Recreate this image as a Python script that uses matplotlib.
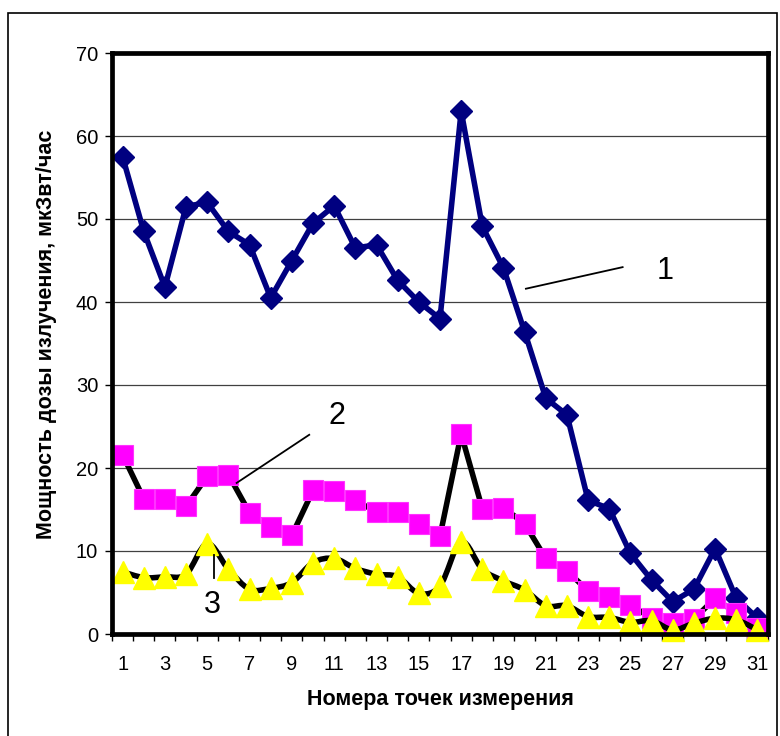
import matplotlib
matplotlib.use("Agg")
import matplotlib.pyplot as plt
from matplotlib.path import Path
from matplotlib.patches import PathPatch, Rectangle
import numpy as np

plt.rcParams['font.family'] = ['Liberation Sans', 'DejaVu Sans']

points = list(range(1, 32))
series1 = [57.5, 48.5, 41.8, 51.5, 52.0, 48.5, 46.9, 40.5, 45.0, 49.5,
           51.6, 46.5, 46.9, 42.6, 40.0, 38.0, 63.0, 49.1, 44.1, 36.4,
           28.4, 26.4, 16.1, 15.1, 9.7, 6.5, 3.9, 5.4, 10.3, 4.3, 1.9]
series2 = [21.6, 16.3, 16.3, 15.4, 19.0, 19.2, 14.6, 12.9, 11.9, 17.3,
           17.2, 16.1, 14.7, 14.7, 13.2, 11.8, 24.1, 15.1, 15.2, 13.3,
           9.1, 7.6, 5.2, 4.5, 3.5, 1.9, 1.3, 1.8, 4.3, 2.5, 0.7]
series3 = [7.5, 6.8, 6.9, 7.2, 10.9, 7.8, 5.4, 5.5, 6.2, 8.6,
           9.1, 7.9, 7.2, 6.9, 4.9, 5.8, 11.1, 7.8, 6.4, 5.3,
           3.4, 3.4, 2.1, 2.0, 1.4, 1.6, 0.5, 1.3, 1.9, 1.7, 0.5]
xtick_labels = [str(i) for i in range(1, 32, 2)]
yticks = [0, 10, 20, 30, 40, 50, 60, 70]

W, H = 780, 736
fig = plt.figure(figsize=(W / 100, H / 100), dpi=100)
fig.patch.set_facecolor('white')

# outer frame
fig.add_artist(Rectangle((8 / W, -0.05), (777 - 8) / W, (H - 13) / H + 0.05,
                         transform=fig.transFigure, fill=False,
                         edgecolor='black', linewidth=1.2))

ax = fig.add_axes([112 / W, 1 - 634 / H, (768 - 112) / W, (634 - 53) / H])
ax.set_xlim(0.5, 31.5)
ax.set_ylim(0, 70)

for s in ax.spines.values():
    s.set_linewidth(3.4)
    s.set_color('black')
    s.set_zorder(10)

ax.set_yticks(yticks)
ax.set_yticklabels([str(v) for v in yticks], fontsize=14.5)
ax.set_xticks(range(1, 32, 2))
ax.set_xticklabels(xtick_labels, fontsize=14.5)
ax.set_xticks(np.arange(0.5, 32, 1), minor=True)
ax.tick_params(axis='x', which='major', length=0, pad=15)
ax.tick_params(axis='x', which='minor', length=5, width=1, direction='out')
ax.tick_params(axis='y', length=5, width=1, direction='out', pad=5)

for v in yticks[1:-1]:
    ax.axhline(v, color='#404040', linewidth=0.9, zorder=1)

# series 1
ax.plot(points, series1, color='#000080', linewidth=4, marker='D',
        markersize=11.5, markerfacecolor='#000080', markeredgecolor='#000080',
        zorder=3, clip_on=False)

# series 2
ax.plot(points, series2, color='black', linewidth=4, zorder=4, clip_on=False)
ax.plot(points, series2, linestyle='none', marker='s', markersize=15,
        markerfacecolor='#FF00FF', markeredgecolor='#FF33FF',
        markeredgewidth=0.8, zorder=5, clip_on=False)

# series 3 (smoothed line, Excel-style Bezier)
xs = np.array(points, dtype=float)
ys = np.array(series3, dtype=float)
n = len(xs)
verts = [(xs[0], ys[0])]
codes = [Path.MOVETO]
for i in range(n - 1):
    p0 = np.array([xs[max(i - 1, 0)], ys[max(i - 1, 0)]])
    p1 = np.array([xs[i], ys[i]])
    p2 = np.array([xs[i + 1], ys[i + 1]])
    p3 = np.array([xs[min(i + 2, n - 1)], ys[min(i + 2, n - 1)]])
    c1 = p1 + (p2 - p0) / 6.0
    c2 = p2 - (p3 - p1) / 6.0
    verts += [tuple(c1), tuple(c2), tuple(p2)]
    codes += [Path.CURVE4, Path.CURVE4, Path.CURVE4]
ax.add_patch(PathPatch(Path(verts, codes), fill=False, edgecolor='black',
                       linewidth=4, zorder=6, transform=ax.transData,
                       clip_on=False))
ax.plot(points, series3, linestyle='none', marker='^', markersize=16,
        markerfacecolor='#FFFF00', markeredgecolor='#FFFF00', zorder=7,
        clip_on=False)

# annotations
narrow = ['Liberation Sans Narrow', 'Liberation Sans', 'DejaVu Sans']
ax.plot([20.06, 24.63], [41.6, 44.2], color='black', linewidth=1.3, zorder=8)
ax.text(26.63, 43.7, '1', fontsize=22, family=narrow, ha='center', va='center', zorder=8)
ax.plot([9.82, 6.39], [24.0, 18.2], color='black', linewidth=1.3, zorder=8)
ax.text(11.12, 26.3, '2', fontsize=22, family=narrow, ha='center', va='center', zorder=8)
ax.plot([5.33, 5.33], [9.5, 6.8], color='black', linewidth=1.3, zorder=8)
ax.text(5.26, 3.5, '3', fontsize=22, family=narrow, ha='center', va='center', zorder=8)

fig.text(440 / W, 1 - 700 / H, 'Номера точек измерения', fontsize=15.5,
         fontweight='bold', ha='center', va='center')
fig.text(47 / W, 1 - 334 / H, 'Мощность дозы излучения, мкЗвт/час', fontsize=15.5,
         fontweight='bold', ha='center', va='center', rotation=90)

fig.savefig('out.png', dpi=100)
